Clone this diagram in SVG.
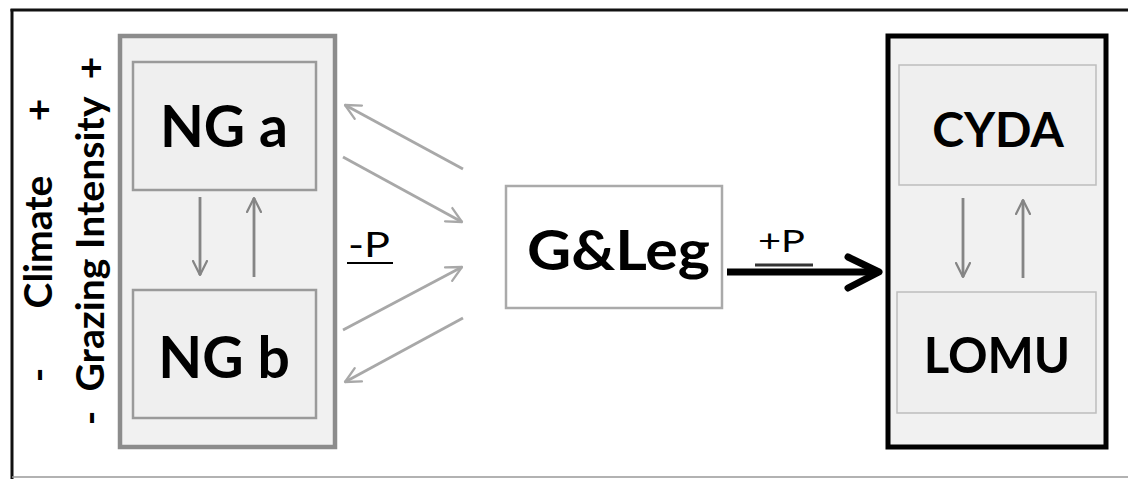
<svg xmlns="http://www.w3.org/2000/svg" width="1128" height="479" viewBox="0 0 1128 479">
  <style>
    .lbl { font-family: Lato, "Liberation Sans", sans-serif; font-weight: 700; fill: #000; }
    .side { font-family: Lato, "Liberation Sans", sans-serif; font-weight: 700; fill: #000; font-size: 39px; }
    .pl { font-family: Lato, "Liberation Sans", sans-serif; font-weight: 400; fill: #000; }
    .inner { fill: #efefef; stroke: #9a9a9a; stroke-width: 2.5; }
    .innerR { fill: #efefef; stroke: #bdbdbd; stroke-width: 1.5; }
    .gline { stroke: #858585; stroke-width: 2.8; fill: none; }
    .dline { stroke: #a8a8a8; stroke-width: 2.8; fill: none; }
  </style>
  <defs>
    <marker id="headG" viewBox="0 0 12 12" refX="11" refY="6" markerWidth="6" markerHeight="6" markerUnits="strokeWidth" orient="auto">
      <path d="M1,1 L11,6 L1,11" fill="none" stroke="#858585" stroke-width="1.6" stroke-linecap="round" stroke-linejoin="round"/>
    </marker>
    <marker id="headL" viewBox="0 0 12 12" refX="11" refY="6" markerWidth="6.5" markerHeight="6.5" markerUnits="strokeWidth" orient="auto">
      <path d="M1,1 L11,6 L1,11" fill="none" stroke="#a8a8a8" stroke-width="1.5" stroke-linecap="round" stroke-linejoin="round"/>
    </marker>
  </defs>

  <rect width="1128" height="479" fill="#fff"/>

  <!-- outer frame -->
  <g id="frame">
    <line x1="10.5" y1="10" x2="1128" y2="10" stroke="#111" stroke-width="3"/>
    <line x1="12" y1="9" x2="12" y2="479" stroke="#111" stroke-width="3"/>
    <line x1="12" y1="477" x2="1128" y2="477" stroke="#999" stroke-width="1.5"/>
  </g>

  <!-- gradient axis labels -->
  <g id="axis-climate">
    <text class="side" transform="translate(52,242) rotate(-90)" text-anchor="middle">Climate</text>
    <text class="side" transform="translate(52,110) rotate(-90)" text-anchor="middle">+</text>
    <text class="side" transform="translate(52,375) rotate(-90)" text-anchor="middle">-</text>
  </g>
  <g id="axis-grazing">
    <text class="side" transform="translate(104,244) rotate(-90)" text-anchor="middle" textLength="295" lengthAdjust="spacingAndGlyphs">Grazing Intensity</text>
    <text class="side" transform="translate(104,68) rotate(-90)" text-anchor="middle">+</text>
    <text class="side" transform="translate(104,418) rotate(-90)" text-anchor="middle">-</text>
  </g>

  <!-- native grass group -->
  <g id="ng-group">
    <rect x="120" y="36" width="215" height="411" fill="#f1f1f1" stroke="#8c8c8c" stroke-width="4.5"/>
  </g>
  <g id="ng-a">
    <rect class="inner" x="133" y="62" width="183" height="128"/>
    <text class="lbl" x="224" y="147" font-size="57" text-anchor="middle">NG a</text>
  </g>
  <g id="ng-b">
    <rect class="inner" x="133" y="290" width="183" height="128"/>
    <text class="lbl" x="224" y="378" font-size="57" text-anchor="middle">NG b</text>
  </g>

  <!-- grass & legume node -->
  <g id="gleg">
    <rect x="506" y="186" width="216" height="122" fill="#fff" stroke="#aaaaaa" stroke-width="2.5"/>
    <text class="lbl" x="527" y="270" font-size="56" textLength="183" lengthAdjust="spacingAndGlyphs">G&amp;Leg</text>
  </g>

  <!-- invasive group -->
  <g id="inv-group">
    <rect x="888" y="36" width="218" height="411" fill="#f1f1f1" stroke="#000" stroke-width="5"/>
  </g>
  <g id="cyda">
    <rect class="innerR" x="899" y="65" width="197" height="120"/>
    <text class="lbl" x="998" y="147" font-size="48" text-anchor="middle">CYDA</text>
  </g>
  <g id="lomu">
    <rect class="innerR" x="897" y="292" width="199" height="121"/>
    <text class="lbl" x="997" y="373" font-size="49" text-anchor="middle">LOMU</text>
  </g>

  <!-- connectors -->
  <g id="connectors">
    <line class="gline" x1="200" y1="197" x2="200" y2="275" marker-end="url(#headG)"/>
    <line class="gline" x1="254" y1="277" x2="254" y2="198" marker-end="url(#headG)"/>
    <line class="gline" x1="963" y1="198" x2="963" y2="277" marker-end="url(#headG)"/>
    <line class="gline" x1="1023" y1="278" x2="1023" y2="200" marker-end="url(#headG)"/>

    <line class="dline" x1="463" y1="169" x2="345" y2="105" marker-end="url(#headL)"/>
    <line class="dline" x1="343" y1="157" x2="462" y2="222" marker-end="url(#headL)"/>
    <line class="dline" x1="343" y1="330" x2="462" y2="267" marker-end="url(#headL)"/>
    <line class="dline" x1="463" y1="318" x2="345" y2="382" marker-end="url(#headL)"/>

    <line x1="727" y1="272" x2="876" y2="272" stroke="#000" stroke-width="7"/>
    <path d="M848,257 L879,272 L848,288" fill="none" stroke="#000" stroke-width="7" stroke-linecap="round" stroke-linejoin="round"/>
  </g>

  <!-- connector labels -->
  <g id="labels">
    <text class="pl" x="348" y="257" font-size="35" textLength="42" lengthAdjust="spacingAndGlyphs">-P</text>
    <line x1="347" y1="263" x2="393" y2="263" stroke="#000" stroke-width="2"/>
    <text class="pl" x="758" y="252" font-size="31" textLength="47" lengthAdjust="spacingAndGlyphs">+P</text>
    <line x1="755" y1="265" x2="813" y2="265" stroke="#333" stroke-width="3"/>
  </g>
</svg>
